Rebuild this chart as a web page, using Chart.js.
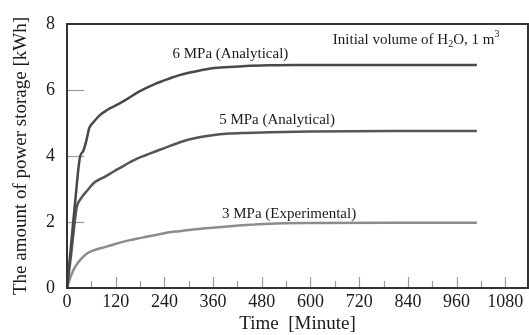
<!DOCTYPE html>
<html>
<head>
<meta charset="utf-8">
<script src="https://cdn.jsdelivr.net/npm/chart.js@4/dist/chart.umd.min.js"></script>
<style>
  html, body { margin: 0; padding: 0; background: #fff; }
  #wrap { width: 529px; height: 335px; }
</style>
</head>
<body>
<div id="wrap"><canvas id="miGrafica"></canvas></div>
<script>
'use strict'

// DATOS (tiempo en minutos, energia en kWh)
const tiempo6 = [0, 10, 20, 32, 40, 48, 55, 65, 81, 100, 115, 135, 155, 174, 195, 216, 240, 257, 277, 300, 330, 358, 400, 441, 500, 560, 650, 800, 1010];
const energia6 = [0, 1.3, 2.6, 3.97, 4.15, 4.48, 4.85, 5.02, 5.24, 5.4, 5.5, 5.63, 5.78, 5.93, 6.06, 6.18, 6.29, 6.37, 6.45, 6.52, 6.6, 6.66, 6.7, 6.73, 6.75, 6.76, 6.76, 6.76, 6.76];

const tiempo5 = [0, 10, 24, 32, 51, 69, 93, 115, 135, 155, 174, 195, 216, 240, 257, 277, 300, 358, 400, 441, 500, 600, 800, 1010];
const energia5 = [0, 1.0, 2.45, 2.67, 2.97, 3.21, 3.37, 3.53, 3.67, 3.81, 3.93, 4.03, 4.13, 4.24, 4.32, 4.41, 4.5, 4.63, 4.68, 4.7, 4.72, 4.74, 4.76, 4.76];

const tiempo3 = [0, 10, 20, 37, 51, 70, 93, 115, 135, 155, 174, 195, 216, 240, 257, 277, 300, 382, 441, 500, 600, 800, 1010];
const energia3 = [0, 0.38, 0.64, 0.91, 1.06, 1.16, 1.24, 1.32, 1.39, 1.45, 1.5, 1.55, 1.6, 1.66, 1.7, 1.72, 1.76, 1.85, 1.91, 1.95, 1.97, 1.98, 1.98];

const series = ['6 MPa (Analytical)', '5 MPa (Analytical)', '3 MPa (Experimental)'];
const ticksX = [0, 120, 240, 360, 480, 600, 720, 840, 960, 1080];
const ticksY = [0, 2, 4, 6, 8];

const FUENTE = 'Liberation Serif';

// JUNTO X E Y EN PUNTOS
function puntos(xs, ys) {
  return xs.map((x, i) => ({ x: x, y: ys[i] }));
}

// MARCO, MARCAS INTERIORES Y TEXTOS DENTRO DEL GRAFICO
const decoracion = {
  id: 'decoracion',
  beforeDatasetsDraw(chart) {
    const ctx = chart.ctx;
    const a = chart.chartArea;
    const sx = chart.scales.x;
    const sy = chart.scales.y;
    ctx.save();
    ctx.strokeStyle = '#9a9a9a';
    ctx.lineWidth = 1.2;
    ticksY.slice(1, -1).forEach(v => {
      const py = Math.round(sy.getPixelForValue(v)) + 0.5;
      ctx.beginPath();
      ctx.moveTo(a.left, py);
      ctx.lineTo(a.left + 17, py);
      ctx.stroke();
    });
    for (let t = 60; t <= 1080; t += 60) {
      const px = Math.round(sx.getPixelForValue(t)) + 0.5;
      const h = t % 120 === 0 ? 11 : 7;
      ctx.beginPath();
      ctx.moveTo(px, a.bottom);
      ctx.lineTo(px, a.bottom - h);
      ctx.stroke();
    }
    ctx.restore();
  },
  afterDraw(chart) {
    const ctx = chart.ctx;
    const a = chart.chartArea;
    const sx = chart.scales.x;
    const sy = chart.scales.y;
    ctx.save();
    ctx.strokeStyle = '#333';
    ctx.lineWidth = 2;
    ctx.strokeRect(a.left, a.top, a.right - a.left, a.bottom - a.top);

    ctx.fillStyle = '#1a1a1a';
    ctx.font = '15px "' + FUENTE + '"';
    ctx.textBaseline = 'alphabetic';
    ctx.textAlign = 'left';
    // etiquetas de cada curva
    const anclas = [[260, 6.97], [375, 4.98], [382, 2.12]];
    series.forEach((txt, i) => {
      ctx.fillText(txt, sx.getPixelForValue(anclas[i][0]), sy.getPixelForValue(anclas[i][1]));
    });

    // Initial volume of H2O, 1 m3 (con subindice y superindice)
    let x = sx.getPixelForValue(655);
    const y = sy.getPixelForValue(7.4);
    const trozos = [
      ['Initial volume of H', 15, 0],
      ['2', 10, 3],
      ['O, 1 m', 15, 0],
      ['3', 10, -7]
    ];
    trozos.forEach(([t, size, dy]) => {
      ctx.font = size + 'px "' + FUENTE + '"';
      ctx.fillText(t, x, y + dy);
      x += ctx.measureText(t).width;
    });
    ctx.restore();
  }
};

// CREO LA GRAFICA
function crearGrafica() {
  const ctx = document.getElementById('miGrafica').getContext('2d');
  const colores = ['#484848', '#555555', '#8c8c8c'];
  const datos = [puntos(tiempo6, energia6), puntos(tiempo5, energia5), puntos(tiempo3, energia3)];

  new Chart(ctx, {
    type: 'line',
    data: {
      datasets: series.map((nombre, i) => ({
        label: nombre,
        data: datos[i],
        borderColor: colores[i],
        borderWidth: 2.5,
        pointRadius: 0,
        fill: false,
        cubicInterpolationMode: 'monotone'
      }))
    },
    options: {
      responsive: true,
      maintainAspectRatio: false,
      animation: false,
      layout: { padding: { top: 24, right: 1, left: 0, bottom: 0 } },
      scales: {
        x: {
          type: 'linear',
          min: 0,
          max: 1136,
          afterBuildTicks: s => { s.ticks = ticksX.map(v => ({ value: v })); },
          afterFit: s => { s.height = 47; },
          grid: { display: false, drawTicks: false, tickLength: 0 },
          border: { display: false },
          ticks: {
            color: '#1a1a1a',
            font: { family: FUENTE, size: 18 },
            padding: 3,
            maxRotation: 0,
            autoSkip: false,
            callback: v => String(v)
          },
          title: {
            display: true,
            text: 'Time  [Minute]',
            color: '#1a1a1a',
            font: { family: FUENTE, size: 19 },
            padding: { top: 0, bottom: 0 }
          }
        },
        y: {
          min: 0,
          max: 8,
          afterBuildTicks: s => { s.ticks = ticksY.map(v => ({ value: v })); },
          afterFit: s => { s.width = 67; },
          grid: { display: false, drawTicks: false, tickLength: 0 },
          border: { display: false },
          ticks: {
            color: '#1a1a1a',
            font: { family: FUENTE, size: 18 },
            padding: 12,
            callback: v => String(v)
          },
          title: {
            display: true,
            text: 'The amount of power storage [kWh]',
            color: '#1a1a1a',
            font: { family: FUENTE, size: 19 },
            padding: { top: 10, bottom: 0 }
          }
        }
      },
      plugins: {
        legend: { display: false },
        tooltip: { enabled: false }
      }
    },
    plugins: [decoracion]
  });
}

crearGrafica();
</script>
</body>
</html>
